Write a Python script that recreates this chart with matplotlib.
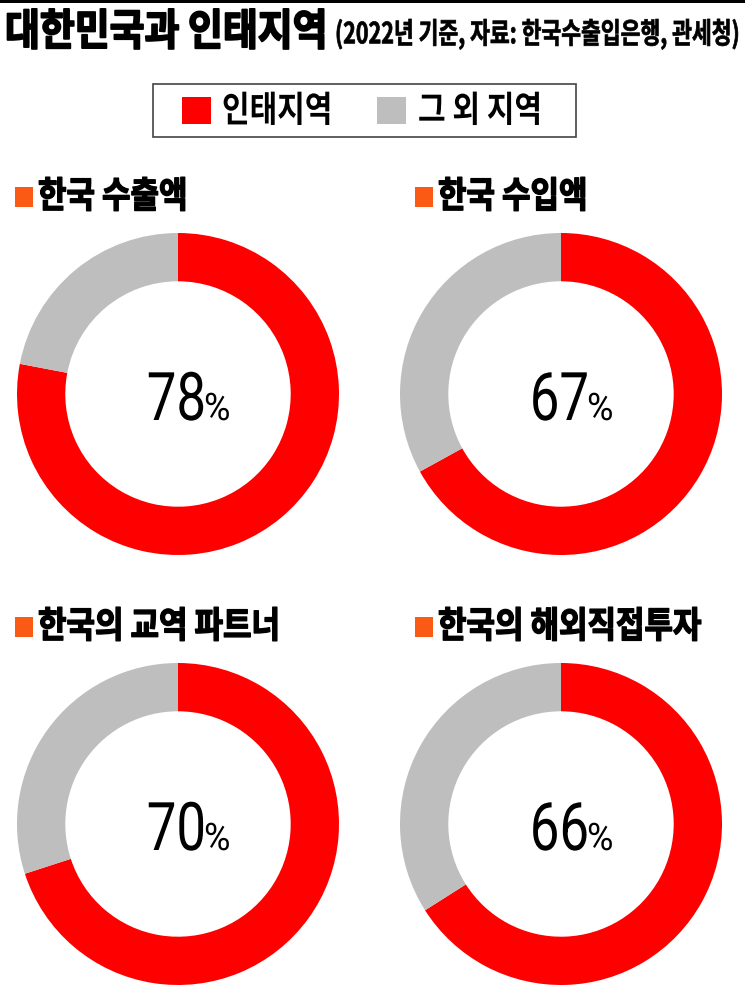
import matplotlib
matplotlib.use('Agg')
import matplotlib.pyplot as plt
from matplotlib.patches import Rectangle
from matplotlib.patheffects import AbstractPathEffect
from matplotlib.transforms import Affine2D, Bbox
from matplotlib.text import Text

plt.rcParams['font.family'] = ['Noto Sans CJK KR', 'DejaVu Sans']

# ---- data ----
title = '대한민국과 인태지역'
subtitle = '(2022년 기준, 자료: 한국수출입은행, 관세청)'
legend_labels = ['인태지역', '그 외 지역']
panel_titles = ['한국 수출액', '한국 수입액', '한국의 교역 파트너', '한국의 해외직접투자']
indo_pacific_share = [78, 67, 70, 66]
other_share = [22, 33, 30, 34]

RED = '#FF0000'
GRAY = '#BEBEBE'
ORANGE = '#FA5A14'

W, H = 745, 987
fig = plt.figure(figsize=(7.45, 9.87), dpi=100)


class Tall(AbstractPathEffect):
    """Stretch text vertically around its anchor (gives a condensed look),
    optionally thickening the strokes."""
    def __init__(self, sy, artist, bold=0.0):
        super().__init__()
        self.sy = sy
        self.artist = artist
        self.bold = bold

    def draw_path(self, renderer, gc, tpath, affine, rgbFace=None):
        y0 = self.artist.get_transform().transform(self.artist.get_position())[1]
        aff = affine + Affine2D().translate(0, -y0).scale(1, self.sy).translate(0, y0)
        if self.bold > 0:
            gc0 = renderer.new_gc()
            gc0.copy_properties(gc)
            gc0.set_linewidth(self.bold)
            gc0.set_foreground(rgbFace)
            gc0.set_joinstyle('round')
            renderer.draw_path(gc0, tpath, aff, rgbFace)
            gc0.restore()
        else:
            renderer.draw_path(gc, tpath, aff, rgbFace)


class TallText(Text):
    def __init__(self, *args, sy=1.0, bold=0.0, **kwargs):
        super().__init__(*args, **kwargs)
        self._sy = sy
        self.set_path_effects([Tall(sy, self, bold)])

    def get_window_extent(self, renderer=None, dpi=None):
        bb = super().get_window_extent(renderer, dpi)
        y0 = self.get_transform().transform(self.get_position())[1]
        return Bbox.from_extents(bb.x0, y0 + (bb.y0 - y0) * self._sy,
                                 bb.x1, y0 + (bb.y1 - y0) * self._sy)


def ftext(x, y, s, sy=1.0, bold=0.0, **kw):
    t = TallText(x, y, s, sy=sy, bold=bold, transform=fig.transFigure, **kw)
    fig.add_artist(t)
    return t


def atext(ax, x, y, s, sy=1.0, bold=0.0, **kw):
    t = TallText(x, y, s, sy=sy, bold=bold, transform=ax.transData, **kw)
    ax.add_artist(t)
    return t


def fx(px):
    return px / W


def fy(py):
    return 1 - py / H


# top black rule
fig.add_artist(Rectangle((0, fy(4)), 1, 4 / H, transform=fig.transFigure,
                         facecolor='black', edgecolor='none'))

# title + subtitle
ftext(fx(5), fy(33), title, sy=1.14, bold=1.3, ha='left', va='center',
      fontsize=27.3, fontweight='bold', color='black')
ftext(fx(335), fy(35), subtitle, sy=1.35, bold=0.5, ha='left', va='center',
      fontsize=15.5, fontweight='bold', color='black')

# legend box
fig.add_artist(Rectangle((fx(153), fy(138)), (576 - 153) / W, (138 - 85) / H,
                         transform=fig.transFigure, facecolor='white',
                         edgecolor='#444444', linewidth=1.2))
for col, lx, tx, lab in [(RED, 182, 222, legend_labels[0]),
                         (GRAY, 377, 418, legend_labels[1])]:
    fig.add_artist(Rectangle((fx(lx), fy(125)), 29 / W, 27 / H,
                             transform=fig.transFigure, facecolor=col,
                             edgecolor='none'))
    ftext(fx(tx), fy(112), lab, sy=1.2, ha='left', va='center',
          fontsize=21.6, fontweight='bold', color='black')

# donuts
centers = [(178, 395), (561, 395), (178, 825), (561, 825)]
title_pos = [(15, 198), (415, 198), (15, 628), (415, 628)]
R = 161
for i, (cx, cy) in enumerate(centers):
    # panel title
    px_, py_ = title_pos[i]
    fig.add_artist(Rectangle((fx(px_), fy(py_ + 10)), 18 / W, 20 / H,
                             transform=fig.transFigure, facecolor=ORANGE,
                             edgecolor='none'))
    ftext(fx(px_ + 23), fy(py_), panel_titles[i], sy=1.17, bold=1.0,
          ha='left', va='center', fontsize=22.3, fontweight='bold',
          color='black')

    ax = fig.add_axes([fx(cx - R), fy(cy + R), 2 * R / W, 2 * R / H])
    ax.pie([indo_pacific_share[i], other_share[i]], colors=[RED, GRAY],
           startangle=90, counterclock=False, radius=1,
           wedgeprops=dict(width=0.30, linewidth=0))
    ax.set_xlim(-1, 1)
    ax.set_ylim(-1, 1)
    ax.set_aspect('equal')
    ax.axis('off')
    atext(ax, 28 / R, -26 / R, str(indo_pacific_share[i]), sy=1.27,
          ha='right', va='baseline', fontsize=38, fontweight='normal',
          family=['Roboto', 'DejaVu Sans'], color='black')
    atext(ax, 26 / R, -26 / R, '%', sy=1.05, ha='left', va='baseline',
          fontsize=26, fontweight='normal',
          family=['Roboto', 'DejaVu Sans'], color='black')

fig.savefig('out.png', dpi=100, facecolor='white')
